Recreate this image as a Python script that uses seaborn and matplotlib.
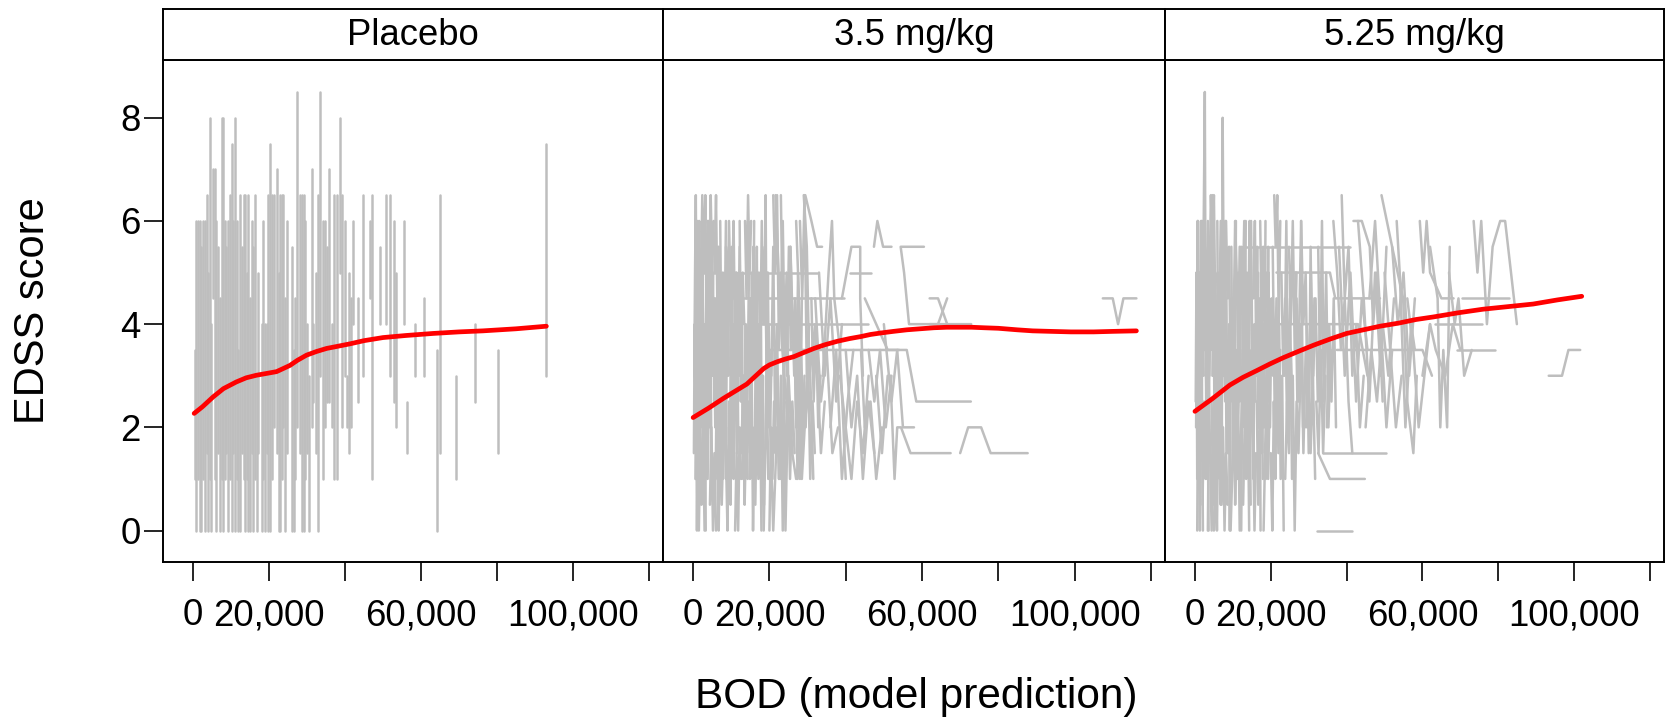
import matplotlib
matplotlib.use("Agg")
import matplotlib.pyplot as plt
import seaborn as sns
import pandas as pd

sns.set_style("ticks")
plt.rcParams["font.family"] = ["Liberation Sans", "DejaVu Sans"]
plt.rcParams.update({"text.color": "black", "axes.labelcolor": "black",
                     "xtick.color": "black", "ytick.color": "black"})

# ---------------- data ----------------
panels = ["Placebo", "3.5 mg/kg", "5.25 mg/kg"]
x_ticks = [0, 20000, 40000, 60000, 80000, 100000, 120000]
x_tick_labels = ["0", "20,000", "", "60,000", "", "100,000", ""]
y_ticks = [0, 2, 4, 6, 8]
y_tick_labels = ["0", "2", "4", "6", "8"]
x_label = "BOD (model prediction)"
y_label = "EDSS score"

# Placebo: each patient keeps one BOD value -> vertical segment (bod, lowest EDSS, highest EDSS)
placebo_bod = [450, 900, 1350, 1800, 2200, 2650, 3100, 3550, 4000, 4400, 4850, 5200, 5700, 6150,
               6600, 7050, 7500, 7900, 8400, 8800, 9300, 9700, 10200, 10600, 11050, 11500, 11900,
               12400, 12800, 13300, 13700, 14200, 14600, 15000, 15500, 15900, 16300, 16800, 17200,
               18100, 18500, 18900, 19400, 19800, 20300, 20700, 21200, 22000, 22500, 22900, 23400,
               23800, 24200, 24700, 26000, 26500, 26900, 27300, 28200, 28600, 29100, 29500, 30000,
               30400, 31300, 31700, 32500, 33000, 33500, 34300, 34800, 35300, 35900, 36500, 37200,
               37900, 38600, 39200, 40000, 40500, 41000,
               41700, 42100, 43400, 44700, 46500, 47200, 49100, 50900, 51900, 52900, 53300, 55500,
               56200, 58300, 60800, 64300, 64900, 69300, 74300, 80300, 92800]
placebo_lo = [1.0, 0.0, 1.0, 0.0, 0.0, 1.0, 0.0, 1.5, 0.0, 1.0, 0.0, 4.5, 1.0, 0.0,
              1.5, 0.0, 1.0, 0.0, 1.0, 1.5, 0.0, 1.0, 0.0, 1.5, 0.0, 1.0, 0.0,
              0.0, 1.5, 1.0, 0.0, 1.0, 0.0, 0.0, 1.5, 0.0, 1.0, 0.0, 1.5,
              0.0, 1.0, 0.0, 1.5, 0.0, 0.0, 1.0, 2.0, 1.5, 0.0, 0.0, 1.0,
              2.0, 0.0, 1.5, 0.0, 0.0, 1.0, 2.0, 1.5, 0.0, 0.0, 1.0, 1.5,
              0.0, 2.0, 2.5, 1.5, 0.0, 3.0, 1.0, 2.0, 2.5, 2.5, 2.0, 1.0,
              1.0, 5.0, 2.0, 3.0, 2.0, 1.5,
              2.0, 4.0, 2.5, 3.0, 4.5, 1.0, 4.0, 4.0, 3.0, 2.5, 2.0, 4.0,
              1.5, 3.0, 3.0, 0.0, 1.5, 1.0, 2.5, 1.5, 3.0]
placebo_hi = [3.5, 6.0, 6.0, 6.0, 5.5, 6.0, 6.0, 6.5, 5.0, 8.0, 4.0, 7.0, 7.0, 6.0,
              5.5, 4.5, 8.0, 8.0, 6.0, 5.5, 6.0, 6.5, 7.5, 6.0, 8.0, 6.0, 3.5,
              6.5, 5.5, 6.5, 6.5, 5.0, 6.5, 4.5, 6.0, 5.5, 6.5, 3.0, 5.0,
              4.0, 6.0, 4.0, 4.0, 6.5, 7.5, 6.5, 6.5, 7.0, 5.0, 6.5, 6.5,
              6.5, 4.5, 6.0, 5.5, 3.5, 4.5, 8.5, 6.5, 6.5, 6.5, 6.0, 4.0,
              3.0, 7.0, 4.0, 5.0, 6.5, 8.5, 6.0, 6.0, 5.5, 7.0, 4.0, 6.5,
              6.5, 8.0, 6.5, 6.0, 3.0, 5.0,
              4.5, 6.0, 4.5, 6.5, 6.0, 6.5, 5.5, 6.5, 6.5, 6.0, 5.0, 6.0,
              2.5, 4.0, 4.5, 3.5, 6.5, 3.0, 4.0, 3.5, 7.5]

# 3.5 mg/kg: individual trajectories (BOD, EDSS) in visit order
dose35_dense = [
    [(300, 3.0), (500, 5.0), (700, 6.5), (900, 4.0), (1100, 2.0)],
    [(600, 1.0), (800, 3.0), (1000, 0.0), (1300, 2.5), (1600, 4.5)],
    [(1000, 5.5), (1300, 3.5), (1600, 6.0), (2000, 2.0), (2300, 4.0)],
    [(1500, 0.0), (1800, 1.5), (2200, 0.5), (2600, 3.0), (3100, 1.0)],
    [(2000, 4.5), (2400, 6.5), (2800, 5.0), (3200, 6.5), (3600, 3.5)],
    [(2600, 2.0), (3000, 0.0), (3400, 2.5), (3800, 1.0), (4200, 3.0)],
    [(3200, 3.5), (3600, 5.0), (4000, 2.5), (4400, 4.5), (4800, 1.5)],
    [(3800, 6.0), (4200, 4.0), (4600, 6.5), (5000, 5.0), (5400, 6.0)],
    [(4400, 0.5), (4800, 2.0), (5200, 0.0), (5600, 1.5), (6000, 0.0)],
    [(5000, 3.0), (5400, 4.5), (5800, 2.0), (6200, 3.5), (6600, 1.0)],
    [(5600, 5.0), (6000, 6.5), (6400, 4.0), (6800, 5.5), (7200, 3.0)],
    [(6300, 1.5), (6700, 0.0), (7100, 2.5), (7500, 0.5), (8000, 2.0)],
    [(7000, 4.0), (7400, 2.5), (7800, 5.0), (8200, 3.5), (8600, 6.0)],
    [(7800, 1.0), (8200, 3.0), (8600, 1.5), (9000, 0.0), (9400, 2.5)],
    [(8600, 5.5), (9000, 4.0), (9400, 6.0), (9800, 4.5), (10200, 3.0)],
    [(9400, 2.0), (9800, 0.5), (10200, 3.5), (10600, 1.0), (11000, 2.5)],
    [(10200, 4.5), (10600, 6.0), (11000, 3.5), (11400, 5.0), (11800, 2.0)],
    [(11000, 0.0), (11400, 1.5), (11800, 0.0), (12200, 2.0), (12600, 1.0)],
    [(11800, 3.5), (12200, 5.5), (12600, 3.0), (13000, 5.0), (13400, 4.0)],
    [(12700, 1.5), (13100, 3.0), (13500, 0.5), (13900, 2.0), (14300, 1.0)],
    [(13600, 6.0), (14000, 4.5), (14400, 6.5), (14800, 5.0), (15200, 6.0)],
    [(14500, 2.5), (14900, 1.0), (15300, 3.5), (15700, 0.0), (16100, 2.0)],
    [(15400, 4.0), (15800, 5.5), (16200, 3.0), (16600, 4.5), (17000, 2.5)],
    [(16300, 0.5), (16700, 2.5), (17100, 1.0), (17500, 3.0), (17900, 0.0)],
    [(17200, 5.0), (17600, 3.5), (18000, 6.0), (18400, 4.0), (18800, 5.5)],
    [(18100, 2.0), (18500, 0.0), (18900, 1.5), (19300, 3.0), (19700, 1.0)],
    [(19000, 4.5), (19400, 2.5), (19800, 4.0), (20200, 2.0), (20600, 3.5)],
    [(20000, 0.0), (20400, 2.0), (20800, 1.0), (21200, 2.5), (21600, 1.5)],
    [(21000, 6.5), (21500, 5.0), (22000, 6.5), (22500, 3.5), (23000, 5.0)],
    [(22000, 2.5), (22500, 1.0), (23000, 3.0), (23500, 0.0), (24000, 2.0)],
    [(23000, 4.0), (23500, 6.0), (24000, 3.5), (24500, 5.0), (25000, 2.5)],
    [(24200, 1.5), (24800, 3.0), (25400, 1.0), (26000, 2.5), (26600, 1.5)],
    [(25500, 5.5), (26100, 3.5), (26700, 4.5), (27300, 2.0), (27900, 3.5)],
    [(26800, 3.0), (27400, 1.0), (28000, 2.5), (28600, 1.5), (29200, 3.0)],
    [(28000, 6.0), (28600, 4.5), (29200, 6.5), (29800, 3.0), (30400, 4.0)],
    [(29500, 2.0), (30100, 3.5), (30700, 1.0), (31300, 2.5), (31900, 1.5)],
    [(31000, 4.5), (31600, 2.5), (32200, 4.0), (32800, 2.0), (33400, 3.0)],
]
dose35_extra = [
    [(200, 1.5), (400, 4.0), (600, 2.5), (800, 5.5), (1000, 3.5), (1200, 6.0)],
    [(1200, 0.5), (1400, 3.5), (1700, 1.5), (1900, 5.0), (2100, 2.5)],
    [(2200, 3.0), (2500, 5.5), (2800, 1.5), (3000, 4.0), (3300, 0.0)],
    [(3400, 1.5), (3700, 4.0), (4000, 6.0), (4300, 2.0), (4600, 3.5)],
    [(4600, 5.5), (4900, 3.0), (5200, 5.0), (5500, 2.5), (5800, 4.5)],
    [(5900, 1.0), (6200, 3.0), (6500, 5.5), (6800, 2.0), (7100, 4.5)],
    [(7100, 6.0), (7400, 3.5), (7700, 1.0), (8000, 4.0), (8300, 2.5)],
    [(8300, 3.5), (8600, 1.0), (8900, 5.0), (9200, 3.0), (9500, 5.5)],
    [(9600, 1.0), (9900, 4.0), (10200, 5.5), (10500, 2.0), (10800, 4.0)],
    [(10900, 2.5), (11200, 5.0), (11500, 1.5), (11800, 4.5), (12100, 3.0)],
    [(12200, 6.0), (12500, 2.5), (12800, 4.5), (13100, 1.0), (13400, 3.0)],
    [(13500, 2.0), (13800, 4.0), (14100, 1.5), (14400, 3.5), (14700, 5.5)],
    [(14800, 4.5), (15100, 2.0), (15400, 5.0), (15700, 3.0), (16000, 6.0)],
    [(16100, 1.0), (16400, 3.5), (16700, 5.5), (17000, 1.5), (17300, 4.0)],
    [(17400, 2.5), (17700, 5.0), (18000, 1.5), (18300, 3.0), (18600, 0.5)],
    [(18700, 4.0), (19000, 6.5), (19300, 2.5), (19600, 5.0), (19900, 2.0)],
    [(20500, 3.0), (21000, 5.5), (21500, 2.0), (22000, 4.0), (22500, 1.0)],
    [(23600, 2.0), (24100, 4.5), (24600, 3.0), (25100, 5.5), (25600, 3.5)],
    [(26500, 4.0), (27000, 2.0), (27500, 5.0), (28000, 1.0), (28500, 4.5)],
    [(33000, 5.0), (34500, 3.0), (36000, 4.5), (37500, 2.5), (39000, 4.0)],
    [(36000, 2.0), (37500, 3.5), (39000, 1.0), (40500, 2.5), (42000, 3.5)],
    [(40000, 3.5), (41500, 2.0), (43000, 3.0), (44500, 1.0), (46000, 2.5), (47500, 1.5)],
    [(46000, 3.5), (47500, 2.5), (49000, 3.5), (50500, 2.0), (52000, 3.0)],
]
dose35_sparse = [
    [(500, 5.0), (12000, 5.0), (20000, 5.0), (32600, 5.0)],
    [(7900, 4.5), (20000, 4.5), (30000, 4.5), (39600, 4.5)],
    [(16700, 4.0), (30000, 4.0), (45800, 4.0)],
    [(19400, 3.5), (35000, 3.5), (56000, 3.5), (58500, 2.5), (72800, 2.5)],
    [(20000, 2.5), (21000, 0.0), (22000, 2.0), (23000, 1.0), (24000, 2.5)],
    [(23000, 6.5), (23500, 4.0), (24200, 0.0), (25000, 3.0), (26000, 1.5)],
    [(21600, 6.5), (22400, 5.0), (23400, 3.5), (25000, 2.0), (27000, 1.0), (30000, 2.5)],
    [(25500, 5.5), (26500, 3.0), (27500, 4.5), (28500, 1.0), (30000, 3.0)],
    [(27000, 6.0), (28000, 4.0), (29000, 2.0), (30500, 3.5), (31500, 1.0)],
    [(29000, 6.5), (29800, 5.5), (30500, 3.0), (32000, 4.0), (33500, 1.5), (34500, 2.5)],
    [(29400, 6.5), (31000, 6.0), (32500, 5.5), (33800, 5.5)],
    [(32000, 4.5), (33500, 2.5), (35000, 3.5), (36500, 1.5), (38000, 2.0)],
    [(34000, 3.0), (35500, 5.0), (36400, 6.0), (37000, 4.5), (38500, 3.5), (40000, 1.0)],
    [(39000, 4.5), (41500, 5.5), (43800, 5.5), (43800, 4.5), (44500, 3.0)],
    [(41200, 5.0), (46500, 5.0)],
    [(38500, 3.0), (40000, 2.0), (41500, 1.0), (43000, 2.5), (44500, 1.5), (46000, 3.0)],
    [(44000, 3.5), (45000, 2.0), (46500, 2.5), (48000, 1.0), (49500, 2.0)],
    [(47400, 5.5), (48300, 6.0), (49800, 5.5), (52000, 5.5)],
    [(48000, 3.0), (49500, 1.5), (51000, 3.0), (51700, 3.0), (52800, 1.0), (53500, 2.0),
     (54500, 2.0), (57000, 1.5), (67500, 1.5)],
    [(60500, 5.5), (54400, 5.5), (55300, 5.0), (56600, 4.0), (72900, 4.0)],
    [(62000, 4.5), (64200, 4.5), (66600, 4.0)],
    [(62000, 4.0), (64200, 4.0), (66600, 4.5)],
    [(45000, 4.5), (51000, 3.5), (54000, 3.5)],
    [(70000, 1.5), (72100, 2.0), (75500, 2.0), (78000, 1.5), (87700, 1.5)],
    [(107400, 4.5), (110000, 4.5), (111400, 4.0), (112800, 4.5), (116200, 4.5)],
    [(50000, 4.0), (52000, 2.5), (53500, 3.5), (55000, 2.0), (57900, 2.0)],
]

# 5.25 mg/kg: individual trajectories (BOD, EDSS) in visit order
dose525_dense = [
    [(300, 2.0), (500, 4.0), (700, 6.0), (900, 3.5), (1100, 1.0)],
    [(600, 0.0), (800, 2.5), (1000, 5.0), (1300, 3.0), (1600, 6.0)],
    [(1000, 1.5), (1300, 0.0), (1600, 2.0), (2000, 4.5), (2300, 3.0)],
    [(1500, 3.5), (1800, 6.0), (2200, 5.0), (2600, 8.5), (2800, 4.0), (3100, 2.0)],
    [(2000, 0.5), (2400, 2.5), (2800, 1.0), (3200, 3.5), (3600, 0.0)],
    [(2600, 5.5), (3000, 4.0), (3400, 6.0), (3800, 3.0), (4200, 5.0)],
    [(3200, 1.0), (3600, 3.0), (4000, 1.5), (4400, 0.0), (4800, 2.0)],
    [(3800, 4.5), (4200, 6.5), (4600, 5.5), (5000, 6.5), (5400, 4.0)],
    [(4400, 2.5), (4800, 0.5), (5200, 3.0), (5600, 1.5), (6000, 3.5)],
    [(5000, 0.0), (5400, 1.5), (5800, 0.0), (6200, 2.5), (6600, 1.0)],
    [(5600, 3.0), (6000, 5.0), (6400, 4.0), (6800, 6.0), (7200, 3.5)],
    [(6300, 1.5), (6700, 3.5), (7100, 2.0), (7300, 8.0), (7600, 4.5), (8000, 2.5)],
    [(7000, 0.5), (7400, 2.0), (7800, 0.0), (8200, 1.5), (8600, 0.5)],
    [(7800, 5.0), (8200, 6.0), (8600, 4.5), (9000, 5.5), (9400, 3.0)],
    [(8600, 2.0), (9000, 4.0), (9400, 2.5), (9800, 4.5), (10200, 1.5)],
    [(9400, 0.0), (9800, 1.0), (10200, 3.0), (10600, 0.5), (11000, 2.0)],
    [(10200, 4.0), (10600, 6.0), (11000, 5.0), (11400, 3.5), (11800, 5.5)],
    [(11000, 1.5), (11400, 2.5), (11800, 0.0), (12200, 2.0), (12600, 3.5)],
    [(11800, 3.0), (12200, 5.5), (12600, 4.5), (13000, 6.0), (13400, 4.0)],
    [(12700, 0.5), (13100, 2.0), (13500, 1.0), (13900, 3.0), (14300, 0.0)],
    [(13600, 5.0), (14000, 3.5), (14400, 6.0), (14800, 4.5), (15200, 2.5)],
    [(14500, 1.0), (14900, 3.5), (15300, 2.0), (15700, 0.0), (16100, 1.5)],
    [(15400, 4.5), (15800, 6.0), (16200, 3.0), (16600, 5.0), (17000, 2.0)],
    [(16300, 2.5), (16700, 0.5), (17100, 2.0), (17500, 4.0), (17900, 1.0)],
    [(17200, 6.0), (17600, 4.0), (18000, 5.5), (18400, 3.5), (18800, 5.0)],
    [(18100, 0.0), (18500, 1.5), (18900, 3.0), (19300, 1.0), (19700, 2.5)],
    [(19000, 3.5), (19400, 5.0), (19800, 2.0), (20200, 4.5), (20600, 3.0)],
    [(20000, 1.5), (20400, 0.0), (20800, 2.5), (21200, 1.0), (21600, 3.5)],
    [(20900, 6.5), (21300, 5.5), (21700, 6.5), (22100, 4.0), (22500, 6.0)],
    [(21800, 2.0), (22200, 4.0), (22600, 1.0), (23000, 3.0), (23400, 0.0)],
    [(22800, 5.0), (23300, 3.0), (23800, 4.5), (24300, 2.0), (24800, 4.0)],
    [(23800, 1.0), (24300, 2.5), (24800, 1.5), (25300, 3.5), (25800, 2.0)],
    [(24800, 5.5), (25300, 4.0), (25800, 6.0), (26300, 3.5), (26800, 5.0)],
    [(25800, 3.0), (26300, 0.0), (26800, 2.5), (27300, 1.5), (27800, 3.0)],
    [(26800, 4.5), (27400, 2.5), (28000, 4.0), (28600, 1.5), (29200, 3.5)],
    [(28000, 6.0), (28600, 4.0), (29200, 5.0), (29800, 2.0), (30400, 4.0)],
    [(29300, 2.0), (29900, 3.5), (30500, 1.5), (31100, 3.0), (31700, 1.0)],
    [(30600, 5.0), (31200, 3.0), (31800, 4.5), (32400, 2.5), (33000, 4.0)],
    [(32000, 2.5), (32600, 1.5), (33200, 3.5), (33800, 1.5), (34400, 3.0)],
    [(33400, 4.5), (34000, 3.0), (34600, 5.0), (35200, 2.0), (35800, 3.5)],
    [(34800, 2.0), (35400, 4.0), (36000, 2.5), (36600, 4.5), (37200, 2.0)],
]
dose525_extra = [
    [(200, 2.5), (400, 5.0), (600, 1.0), (800, 6.0), (1000, 3.0)],
    [(1200, 4.0), (1400, 1.5), (1700, 5.5), (1900, 2.0), (2100, 0.0)],
    [(2200, 6.0), (2500, 3.5), (2800, 5.0), (3000, 1.5), (3300, 4.5)],
    [(3400, 0.0), (3700, 2.5), (4000, 5.0), (4300, 3.5), (4600, 6.5)],
    [(4600, 3.0), (4900, 5.5), (5200, 1.0), (5500, 4.0), (5800, 2.0)],
    [(5900, 6.0), (6200, 2.0), (6500, 4.5), (6800, 0.5), (7100, 3.0)],
    [(7100, 2.5), (7400, 5.0), (7700, 3.0), (8000, 6.0), (8300, 1.5)],
    [(8300, 4.5), (8600, 1.5), (8900, 3.5), (9200, 0.0), (9500, 4.0)],
    [(9600, 5.5), (9900, 2.5), (10200, 4.5), (10500, 1.5), (10800, 6.0)],
    [(10900, 3.5), (11200, 1.0), (11500, 5.0), (11800, 2.5), (12100, 4.5)],
    [(12200, 0.0), (12500, 3.0), (12800, 5.5), (13100, 2.0), (13400, 6.0)],
    [(13500, 4.0), (13800, 1.5), (14100, 5.0), (14400, 2.5), (14700, 0.5)],
    [(14800, 6.0), (15100, 3.5), (15400, 1.0), (15700, 4.0), (16000, 2.5)],
    [(16100, 3.0), (16400, 5.5), (16700, 2.0), (17000, 4.5), (17300, 0.0)],
    [(17400, 5.0), (17700, 1.5), (18000, 4.0), (18300, 2.0), (18600, 6.0)],
    [(18700, 1.0), (19000, 3.5), (19300, 5.5), (19600, 2.5), (19900, 4.0)],
    [(20500, 5.5), (21000, 2.5), (21500, 4.5), (22000, 1.5), (22500, 3.5)],
    [(23600, 3.0), (24100, 6.0), (24600, 2.0), (25100, 4.5), (25600, 1.0)],
    [(26500, 5.0), (27000, 2.5), (27500, 4.0), (28000, 6.0), (28500, 2.0)],
    [(29500, 4.0), (30000, 1.5), (30500, 5.5), (31000, 2.5), (31500, 4.5)],
    [(32500, 5.5), (33000, 3.0), (33500, 6.0), (34000, 2.5), (34500, 4.0)],
    [(38000, 5.5), (39500, 3.0), (41000, 5.0), (42500, 2.5), (44000, 4.5), (45500, 3.5)],
    [(43000, 6.0), (44500, 4.5), (46000, 2.5), (47500, 5.0), (49000, 3.0), (50500, 5.5)],
    [(46000, 4.5), (47500, 6.0), (49000, 4.0), (50500, 2.0), (52000, 3.5)],
    [(52000, 5.5), (53500, 4.0), (55000, 5.0), (56500, 3.0), (58000, 4.5)],
]
dose525_sparse = [
    [(12700, 5.5), (25000, 5.5), (40900, 5.5)],
    [(21500, 5.0), (35600, 5.0), (37000, 4.5), (48800, 4.5)],
    [(21500, 4.0), (43000, 4.0), (45500, 3.0)],
    [(63300, 4.0), (75700, 4.0)],
    [(37400, 3.5), (50000, 3.5), (60000, 3.5), (62500, 3.0)],
    [(69100, 3.5), (79200, 3.5)],
    [(32100, 0.0), (41300, 0.0)],
    [(33800, 1.5), (42000, 1.5), (50500, 1.5)],
    [(32500, 1.5), (35600, 1.0), (44800, 1.0)],
    [(38700, 6.5), (39500, 4.5), (40500, 5.5), (41500, 3.0), (42500, 4.0), (43500, 2.0), (44500, 3.0)],
    [(36500, 6.0), (37500, 5.0), (38500, 3.5), (39500, 4.5), (40500, 2.5), (41500, 1.5)],
    [(41800, 6.0), (44000, 6.0), (46100, 5.5), (47000, 4.0), (48000, 5.0), (49500, 2.5)],
    [(49200, 6.5), (52000, 5.5), (54900, 4.5), (56000, 2.5), (57600, 1.5), (58500, 3.0)],
    [(53200, 6.0), (54000, 5.0), (55500, 2.0), (57000, 4.0), (58000, 3.5)],
    [(45000, 2.0), (46500, 3.5), (48000, 2.5), (49500, 4.0), (51000, 3.0), (52500, 4.5)],
    [(59300, 6.0), (60200, 5.0), (61100, 6.0), (62000, 5.0), (65000, 4.5), (68200, 4.5)],
    [(62000, 5.5), (64000, 4.5), (64700, 2.0), (65500, 3.5), (66500, 2.0), (67200, 5.5)],
    [(70400, 4.5), (82700, 4.5)],
    [(73500, 6.0), (74500, 5.0), (75500, 6.0), (77000, 4.0), (78500, 5.5), (80500, 6.0),
     (81800, 6.0), (84900, 4.0)],
    [(93300, 3.0), (96800, 3.0), (98500, 3.5), (101600, 3.5)],
    [(56000, 4.5), (57600, 3.5), (59000, 2.0), (60500, 3.0), (62000, 4.0)],
    [(50000, 5.0), (51500, 3.5), (53000, 2.0), (54500, 3.0)],
    [(60000, 3.0), (62000, 4.0), (63500, 3.5), (66000, 3.0), (68000, 4.0), (70000, 3.5)],
    [(67000, 5.0), (68500, 4.0), (69500, 4.5), (71000, 3.0), (73000, 3.5)],
]

# loess smooth per panel (red curves)
placebo_fit_x = [300, 2500, 5300, 8000, 11400, 14000, 16700, 19000, 22000, 25500, 27500, 29900,
                 32500, 35200, 38000, 41400, 45000, 50000, 56000, 63200, 70000, 76300, 85000, 93000]
placebo_fit_y = [2.27, 2.40, 2.59, 2.75, 2.88, 2.96, 3.01, 3.04, 3.08, 3.20, 3.30, 3.40,
                 3.47, 3.53, 3.57, 3.62, 3.68, 3.74, 3.78, 3.82, 3.85, 3.87, 3.91, 3.96]
dose35_fit_x = [0, 4000, 7900, 11000, 14100, 16000, 18500, 20000, 22000, 24000, 26400, 29000,
                31700, 34500, 37900, 41000, 44000, 46500, 49300, 52500, 56000, 59500, 63100,
                66500, 70000, 73000, 76300, 80000, 85000, 89000, 93800, 99000, 105000, 110000, 116200]
dose35_fit_y = [2.19, 2.37, 2.56, 2.70, 2.84, 2.97, 3.14, 3.21, 3.27, 3.32, 3.37, 3.45,
                3.53, 3.60, 3.67, 3.72, 3.76, 3.80, 3.83, 3.86, 3.89, 3.91, 3.93,
                3.94, 3.94, 3.94, 3.93, 3.92, 3.89, 3.87, 3.86, 3.85, 3.85, 3.86, 3.87]
dose525_fit_x = [0, 4500, 9200, 12700, 16300, 19800, 23300, 27200, 31200, 35600, 40000, 44400,
                 48800, 53700, 58300, 62900, 69400, 76000, 82600, 89200, 95600, 102000]
dose525_fit_y = [2.31, 2.55, 2.82, 2.97, 3.10, 3.23, 3.35, 3.47, 3.59, 3.71, 3.82, 3.89,
                 3.96, 4.02, 4.09, 4.14, 4.22, 4.29, 4.34, 4.39, 4.47, 4.54]

# ---------------- build tables ----------------
rows = []
for i, (b, lo, hi) in enumerate(zip(placebo_bod, placebo_lo, placebo_hi)):
    rows.append((panels[0], i, b, lo))
    rows.append((panels[0], i, b, hi))
pid = 1000
for name, groups in [(panels[1], dose35_dense + dose35_extra + dose35_sparse),
                     (panels[2], dose525_dense + dose525_extra + dose525_sparse)]:
    for path in groups:
        for b, e in path:
            rows.append((name, pid, b, e))
        pid += 1
df = pd.DataFrame(rows, columns=["panel", "pid", "bod", "edss"])

fits = pd.concat([
    pd.DataFrame({"panel": panels[0], "bod": placebo_fit_x, "edss": placebo_fit_y}),
    pd.DataFrame({"panel": panels[1], "bod": dose35_fit_x, "edss": dose35_fit_y}),
    pd.DataFrame({"panel": panels[2], "bod": dose525_fit_x, "edss": dose525_fit_y}),
])

# ---------------- figure ----------------
W, H = 1669, 717
fig = plt.figure(figsize=(W / 100, H / 100), dpi=100)
GRAY = "#BEBEBE"
FRAME_LW = 1.4
lefts = [163, 663, 1165]
widths = [500, 502, 499]
pan_top, pan_bot, strip_top = 60, 562, 8.5
TICK_FS = 26.3

for k, name in enumerate(panels):
    ax = fig.add_axes([lefts[k] / W, 1 - pan_bot / H, widths[k] / W, (pan_bot - pan_top) / H])
    sub = df[df["panel"] == name]
    sns.lineplot(data=sub, x="bod", y="edss", units="pid", estimator=None, sort=False,
                 color=GRAY, lw=1.8, legend=False, ax=ax)
    sns.lineplot(data=fits[fits["panel"] == name], x="bod", y="edss", estimator=None,
                 color="#FF0000", lw=3.4, legend=False, ax=ax,
                 solid_joinstyle="round", solid_capstyle="round")
    ax.set_xlim(-7900, 123700)
    ax.set_ylim(-0.61, 9.12)
    ax.set_xlabel("")
    ax.set_ylabel("")
    ax.set_xticks(x_ticks)
    ax.set_xticklabels(x_tick_labels, fontsize=TICK_FS)
    ax.tick_params(axis="x", direction="out", length=14, width=1.2, pad=12, colors="black")
    if k == 0:
        ax.set_yticks(y_ticks)
        ax.set_yticklabels(y_tick_labels, fontsize=TICK_FS)
        ax.tick_params(axis="y", direction="out", length=14, width=1.2, pad=2, colors="black")
    else:
        ax.set_yticks([])
    for s in ax.spines.values():
        s.set_visible(True)
        s.set_linewidth(FRAME_LW)
        s.set_color("black")

    sax = fig.add_axes([lefts[k] / W, 1 - pan_top / H, widths[k] / W, (pan_top - strip_top) / H])
    sax.set_xticks([])
    sax.set_yticks([])
    for s in sax.spines.values():
        s.set_linewidth(FRAME_LW)
        s.set_color("black")
    sax.text(0.5, 0.47, name, ha="center", va="center", fontsize=TICK_FS, color="black",
             transform=sax.transAxes)

fig.text(916 / W, 1 - 697 / H, x_label, ha="center", va="center", fontsize=30.5, color="black")
fig.text(33 / W, 1 - 311 / H, y_label, ha="center", va="center", rotation=90, fontsize=30,
         color="black")

fig.savefig("out.png", dpi=100)
